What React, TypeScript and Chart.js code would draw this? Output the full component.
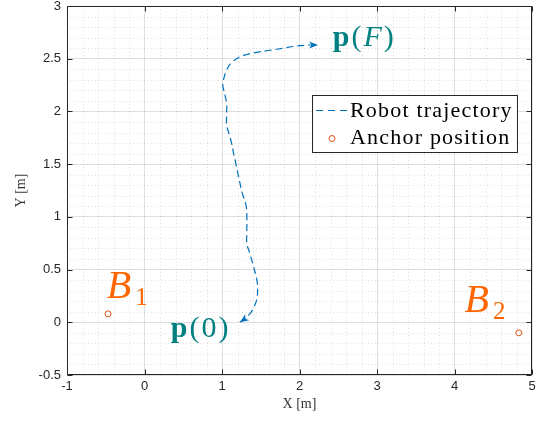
import React, { useEffect, useRef } from 'react';
import { Chart, registerables } from 'chart.js';

Chart.register(...registerables);

// ---- data ----
const trajX = [1.23, 1.29, 1.36, 1.41, 1.45, 1.46, 1.45, 1.41, 1.36, 1.32, 1.32, 1.32, 1.31, 1.26, 1.22, 1.18, 1.15, 1.12, 1.09, 1.06, 1.06, 1.06, 1.04, 1.01, 1.03, 1.07, 1.12, 1.21, 1.32, 1.44, 1.62, 1.79, 1.96, 2.13, 2.24];
const trajY = [0.0, 0.03, 0.08, 0.14, 0.22, 0.32, 0.4, 0.52, 0.65, 0.75, 0.84, 1.03, 1.11, 1.23, 1.36, 1.5, 1.6, 1.71, 1.79, 1.87, 1.98, 2.07, 2.15, 2.25, 2.33, 2.41, 2.46, 2.51, 2.54, 2.56, 2.58, 2.6, 2.62, 2.63, 2.63];
const anchorX = [-0.47, 4.83];
const anchorY = [0.08, -0.1];
const seriesNames = ['Robot trajectory', 'Anchor position'];
const xTitle = 'X [m]';
const yTitle = 'Y [m]';
const xRange = [-1, 5];
const yRange = [-0.5, 3];
const xStep = 1;
const yStep = 0.5;

// annotation anchor points (data coordinates: left / baseline)
const pStartPos = [0.34, -0.135];
const pEndPos = [2.43, 2.625];
const b1Pos = [-0.486, 0.235];
const b2Pos = [4.129, 0.093];

const BLUE = 'rgb(0,114,189)';
const ORANGE = 'rgb(217,83,25)';
const BORANGE = 'rgb(255,102,0)';
const TEAL = 'rgb(0,128,128)';
const AX = '#262626';
const SERIF = '"Liberation Serif", "Times New Roman", serif';
const SANS = '"Liberation Sans", Arial, sans-serif';

type Part = { t: string; font: string; dy?: number; ls?: number; gap?: number };

function drawParts(ctx: CanvasRenderingContext2D, x: number, y: number, parts: Part[], color: string) {
  ctx.save();
  ctx.fillStyle = color;
  ctx.textBaseline = 'alphabetic';
  ctx.textAlign = 'left';
  let cx = x;
  for (const p of parts) {
    ctx.font = p.font;
    (ctx as any).letterSpacing = (p.ls ?? 0) + 'px';
    cx += p.gap ?? 0;
    ctx.fillText(p.t, cx, y + (p.dy ?? 0));
    cx += ctx.measureText(p.t).width;
  }
  ctx.restore();
}

function arrowHead(ctx: CanvasRenderingContext2D, tipX: number, tipY: number, fromX: number, fromY: number) {
  const ang = Math.atan2(tipY - fromY, tipX - fromX);
  const L = 9, W = 3.6, back = 6.5;
  ctx.save();
  ctx.translate(tipX, tipY);
  ctx.rotate(ang);
  ctx.beginPath();
  ctx.moveTo(0, 0);
  ctx.lineTo(-L, -W);
  ctx.lineTo(-back, 0);
  ctx.lineTo(-L, W);
  ctx.closePath();
  ctx.fillStyle = BLUE;
  ctx.fill();
  ctx.restore();
}

const overlay = {
  id: 'overlay',
  beforeDatasetsDraw(chart: any) {
    const { ctx, chartArea: a, scales } = chart;
    const xs = scales.x, ys = scales.y;
    ctx.save();
    ctx.strokeStyle = 'rgba(38,38,38,0.22)';
    ctx.lineWidth = 0.7;
    ctx.setLineDash([1, 2.5]);
    for (let i = 0; i <= 30; i++) {
      if (i % 5 === 0) continue;
      const px = Math.round(xs.getPixelForValue(xRange[0] + i * 0.2)) + 0.5;
      ctx.beginPath();
      ctx.moveTo(px, a.top);
      ctx.lineTo(px, a.bottom);
      ctx.stroke();
    }
    for (let i = 0; i <= 35; i++) {
      if (i % 5 === 0) continue;
      const py = Math.round(ys.getPixelForValue(yRange[0] + i * 0.1)) + 0.5;
      ctx.beginPath();
      ctx.moveTo(a.left, py);
      ctx.lineTo(a.right, py);
      ctx.stroke();
    }
    ctx.restore();
  },
  afterDraw(chart: any) {
    const { ctx, chartArea: a, scales } = chart;
    const xs = scales.x, ys = scales.y;
    ctx.save();
    // box
    const L = Math.round(a.left) + 0.5, R = Math.round(a.right) - 0.5;
    const T = Math.round(a.top) + 0.5, B = Math.round(a.bottom) - 0.5;
    ctx.strokeStyle = AX;
    ctx.lineWidth = 1;
    ctx.strokeRect(L, T, R - L, B - T);
    // inward ticks
    const tl = 5;
    ctx.beginPath();
    for (let v = xRange[0]; v <= xRange[1] + 1e-9; v += xStep) {
      const px = Math.round(xs.getPixelForValue(v)) + 0.5;
      ctx.moveTo(px, B); ctx.lineTo(px, B - tl);
      ctx.moveTo(px, T); ctx.lineTo(px, T + tl);
    }
    for (let v = yRange[0]; v <= yRange[1] + 1e-9; v += yStep) {
      const py = Math.round(ys.getPixelForValue(v)) + 0.5;
      ctx.moveTo(L, py); ctx.lineTo(L + tl, py);
      ctx.moveTo(R, py); ctx.lineTo(R - tl, py);
    }
    ctx.stroke();

    // arrowheads
    const n = trajX.length;
    arrowHead(ctx, xs.getPixelForValue(trajX[0]), ys.getPixelForValue(trajY[0]), xs.getPixelForValue(trajX[1]), ys.getPixelForValue(trajY[1]));
    arrowHead(ctx, xs.getPixelForValue(trajX[n - 1]), ys.getPixelForValue(trajY[n - 1]), xs.getPixelForValue(trajX[n - 2]), ys.getPixelForValue(trajY[n - 2]));

    // math labels
    const pf = 30;
    const pParts = (inner: string, italic: boolean): Part[] => [
      { t: 'p', font: `bold ${pf}px ${SERIF}`, ls: 2 },
      { t: '(', font: `${pf}px ${SERIF}`, ls: 2 },
      { t: inner, font: `${italic ? 'italic ' : ''}${pf}px ${SERIF}`, ls: 2 },
      { t: ')', font: `${pf}px ${SERIF}` },
    ];
    drawParts(ctx, xs.getPixelForValue(pEndPos[0]), ys.getPixelForValue(pEndPos[1]), pParts('F', true), TEAL);
    drawParts(ctx, xs.getPixelForValue(pStartPos[0]), ys.getPixelForValue(pStartPos[1]), pParts('0', false), TEAL);
    const bParts = (sub: string): Part[] => [
      { t: 'B', font: `italic 40px ${SERIF}` },
      { t: sub, font: `25px ${SERIF}`, dy: 7, gap: 4 },
    ];
    drawParts(ctx, xs.getPixelForValue(b1Pos[0]), ys.getPixelForValue(b1Pos[1]), bParts('1'), BORANGE);
    drawParts(ctx, xs.getPixelForValue(b2Pos[0]), ys.getPixelForValue(b2Pos[1]), bParts('2'), BORANGE);

    // legend
    const lx = 312.5, ly = 95.5, lw = 205, lh = 57;
    ctx.fillStyle = '#ffffff';
    ctx.fillRect(lx, ly, lw, lh);
    ctx.strokeStyle = AX;
    ctx.lineWidth = 1;
    ctx.setLineDash([]);
    ctx.strokeRect(lx, ly, lw, lh);
    // line sample
    ctx.strokeStyle = BLUE;
    ctx.lineWidth = 1.2;
    ctx.setLineDash([7, 5]);
    ctx.beginPath();
    ctx.moveTo(316, 110.5);
    ctx.lineTo(349, 110.5);
    ctx.stroke();
    ctx.setLineDash([]);
    // marker sample
    ctx.strokeStyle = ORANGE;
    ctx.lineWidth = 1;
    ctx.beginPath();
    ctx.arc(332, 138.5, 3, 0, Math.PI * 2);
    ctx.stroke();
    drawParts(ctx, 350, 116.5, [{ t: seriesNames[0], font: `22px ${SERIF}`, ls: 1.2 }], '#000');
    drawParts(ctx, 350, 143.5, [{ t: seriesNames[1], font: `22px ${SERIF}`, ls: 1.2 }], '#000');
    ctx.restore();
  },
};

export default function App() {
  const ref = useRef<HTMLCanvasElement | null>(null);
  useEffect(() => {
    if (!ref.current) return;
    const chart = new Chart(ref.current, {
      type: 'scatter',
      data: {
        datasets: [
          {
            label: seriesNames[0],
            data: trajX.map((x, i) => ({ x, y: trajY[i] })),
            showLine: true,
            borderColor: BLUE,
            borderWidth: 1.2,
            borderDash: [7, 4],
            pointRadius: 0,
            tension: 0.35,
            fill: false,
          },
          {
            label: seriesNames[1],
            data: anchorX.map((x, i) => ({ x, y: anchorY[i] })),
            showLine: false,
            pointStyle: 'circle',
            pointRadius: 3,
            pointBorderWidth: 1,
            pointBorderColor: ORANGE,
            pointBackgroundColor: 'rgba(0,0,0,0)',
            borderColor: ORANGE,
            backgroundColor: 'rgba(0,0,0,0)',
          },
        ],
      },
      options: {
        animation: false,
        responsive: false,
        devicePixelRatio: 1,
        layout: { padding: { top: 6, right: 20, left: 0, bottom: 0 } },
        plugins: { legend: { display: false }, tooltip: { enabled: false } },
        scales: {
          x: {
            type: 'linear',
            min: xRange[0],
            max: xRange[1],
            afterFit: (s: any) => { s.height = 46; s.paddingLeft = 0; s.paddingRight = 0; },
            ticks: { stepSize: xStep, color: AX, font: { family: SANS, size: 13 }, padding: 4, maxRotation: 0, callback: (v: any) => String(Number(v)) },
            grid: { color: 'rgba(38,38,38,0.15)', lineWidth: 1, drawTicks: false },
            border: { display: false },
            title: { display: true, text: xTitle, color: '#333', font: { family: SERIF, size: 14 }, padding: { top: 0, bottom: 8 } },
          },
          y: {
            type: 'linear',
            min: yRange[0],
            max: yRange[1],
            afterFit: (s: any) => { s.width = 67; s.paddingTop = 0; s.paddingBottom = 0; },
            ticks: { stepSize: yStep, color: AX, font: { family: SANS, size: 13 }, padding: 6, callback: (v: any) => String(Number(v)) },
            grid: { color: 'rgba(38,38,38,0.15)', lineWidth: 1, drawTicks: false },
            border: { display: false },
            title: { display: true, text: yTitle, color: '#333', font: { family: SERIF, size: 14 }, padding: { top: 13, bottom: 0 } },
          },
        },
      },
      plugins: [overlay],
    });
    return () => chart.destroy();
  }, []);
  return (
    <div style={{ position: 'fixed', left: 0, top: 0, width: 552, height: 421, background: '#fff' }}>
      <canvas ref={ref} width={552} height={421} style={{ display: 'block' }} />
    </div>
  );
}
